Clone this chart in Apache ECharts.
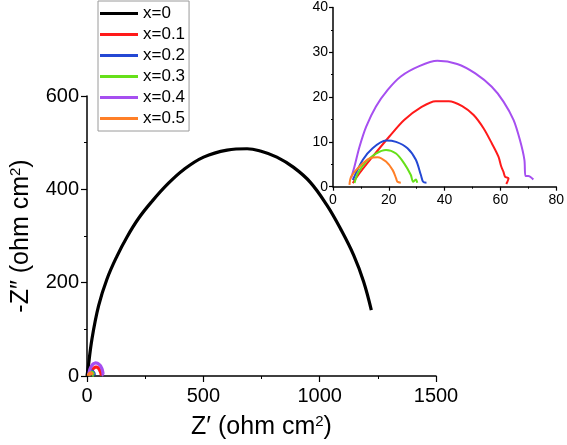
<!DOCTYPE html>
<html><head><meta charset="utf-8">
<script src="https://cdn.jsdelivr.net/npm/echarts@6/dist/echarts.min.js"></script>
<style>html,body{margin:0;padding:0;background:#fff}#c{width:567px;height:445px}</style>
</head><body><div id="c"></div>
<script>
// Series names
const names = ['x=0', 'x=0.1', 'x=0.2', 'x=0.3', 'x=0.4', 'x=0.5'];
const colors = ['#000000', '#ff1a1a', '#2448d4', '#66e01a', '#a64ff0', '#ff7f27'];

// Tick labels
const mainXTicks = [0, 500, 1000, 1500];
const mainYTicks = [0, 200, 400, 600];
const insetXTicks = [0, 20, 40, 60, 80];
const insetYTicks = [0, 10, 20, 30, 40];

// x=0 (Z', -Z'')
const s0 = [[0,0],[2.6,8.5],[21.5,80],[50,151],[86,208],[129,257],[172,298],[222,338],[279,374],[344,410],[415,442],[501,469],[602,484],[688,487],[745,482],[816,469],[888,447],[960,415],[1031,366],[1089,316],[1146,259],[1189,202],[1222,141]];
// x=0.1
const s1 = [[7.1,0.8],[9.5,3.0],[14.2,6.7],[20.2,11.2],[25.5,14.9],[31.5,17.7],[36.8,19.1],[41.5,19.1],[46.3,18.0],[50.4,16.0],[54.0,13.0],[56.9,9.7],[59.3,6.7],[60.3,4.5],[61.1,3.3],[61.7,2.2],[62.9,1.9],[62.1,0.6]];
// x=0.2
const s2 = [[7.1,1.5],[10.7,6.0],[14.2,8.6],[19.0,10.3],[22.6,10.0],[26.7,8.6],[29.7,6.0],[31.5,2.6],[32.3,1.1],[33.5,0.9]];
// x=0.3
const s3 = [[7.7,0.8],[8.9,3.0],[11.9,5.6],[15.4,7.4],[19.0,8.2],[22.6,7.4],[25.5,5.2],[27.9,2.6],[28.7,1.1],[29.7,1.6],[30.2,0.9]];
// x=0.4
const s4 = [[6.5,1.9],[7.7,4.5],[9.5,8.9],[11.9,13.4],[15.4,17.9],[19.6,21.6],[24.3,24.6],[30.9,26.9],[37.4,28.1],[44.5,27.4],[51.0,25.3],[56.9,22.3],[61.1,19.0],[64.7,14.9],[67.0,10.4],[68.6,6.0],[69.0,2.4],[70.0,2.4],[71.8,1.6]];
// x=0.5
const s5 = [[5.9,0.4],[6.5,2.2],[9.5,4.5],[13.1,6.3],[16.0,6.6],[19.0,5.6],[21.4,3.7],[22.6,1.9],[23.1,1.1],[24.3,0.9]];
const allData = [s0, s1, s2, s3, s4, s5];

const FONT = 'Liberation Sans, Arial, sans-serif';
const chart = echarts.init(document.getElementById('c'), null, {renderer: 'canvas'});

function axisCommon(fontSize, tickLen, minorLen, margin) {
  return {
    axisLine: {show: true, onZero: false, lineStyle: {color: '#000', width: 1.5}},
    axisTick: {show: true, inside: false, length: tickLen, lineStyle: {color: '#000', width: 1.2}},
    minorTick: {show: true, splitNumber: 2, length: minorLen, lineStyle: {color: '#000', width: 1}},
    splitLine: {show: false},
    axisLabel: {color: '#000', fontSize: fontSize, fontFamily: FONT, margin: margin, formatter: v => String(v)},
  };
}

const series = [];
allData.forEach((d, i) => {
  series.push({
    name: names[i], type: 'line', xAxisIndex: 0, yAxisIndex: 0, data: d,
    smooth: 0.4, showSymbol: false, symbol: 'none', lineStyle: {color: colors[i], width: 3.2}, itemStyle: {color: colors[i]},
    silent: true, animation: false, z: i === 0 ? 2 : 3
  });
});
allData.forEach((d, i) => {
  if (i === 0) return;
  series.push({
    name: names[i], type: 'line', xAxisIndex: 1, yAxisIndex: 1, data: d,
    smooth: 0.3, showSymbol: false, symbol: 'none', lineStyle: {color: colors[i], width: 2}, itemStyle: {color: colors[i]},
    silent: true, animation: false, z: 4
  });
});

const supRich = {a: {fontSize: 25, fontFamily: FONT, color: '#000'}, s: {fontSize: 15, fontFamily: FONT, color: '#000', verticalAlign: 'top', padding: [0, 0, 12, 0]}};

const option = {
  animation: false,
  backgroundColor: '#fff',
  grid: [
    {left: 87, top: 96, width: 349, height: 281},
    {left: 333, top: 7.5, width: 225, height: 179.2}
  ],
  legend: {
    data: names.map((n, i) => ({name: n, icon: 'rect', itemStyle: {color: colors[i]}})),
    orient: 'vertical', left: 98, top: 1,
    itemWidth: 38, itemHeight: 3, itemGap: 4,
    padding: [4, 4, 4, 2],
    borderColor: '#9a9a9a', borderWidth: 1, backgroundColor: '#fff',
    textStyle: {color: '#000', fontSize: 17, fontFamily: FONT, lineHeight: 16},
    selectedMode: false
  },
  xAxis: [
    Object.assign(axisCommon(20, 6, 3, 10), {
      gridIndex: 0, type: 'value', min: mainXTicks[0], max: mainXTicks[mainXTicks.length - 1], interval: 500,
      name: '{a|Z′ (ohm cm}{s|2}{a|)}', nameLocation: 'middle', nameGap: 38,
      nameTextStyle: {rich: supRich}
    }),
    Object.assign(axisCommon(14, 4, 2, 6), {
      gridIndex: 1, type: 'value', min: insetXTicks[0], max: insetXTicks[insetXTicks.length - 1], interval: 20
    })
  ],
  yAxis: [
    Object.assign(axisCommon(20, 6, 3, 8), {
      gridIndex: 0, type: 'value', min: mainYTicks[0], max: mainYTicks[mainYTicks.length - 1], interval: 200,
      name: '{a|-Z″ (ohm cm}{s|2}{a|)}', nameLocation: 'middle', nameGap: 52, nameRotate: 90,
      nameTextStyle: {rich: supRich}
    }),
    Object.assign(axisCommon(14, 4, 2, 5), {
      gridIndex: 1, type: 'value', min: insetYTicks[0], max: insetYTicks[insetYTicks.length - 1], interval: 10
    })
  ],
  series: series
};
chart.setOption(option);
</script>
</body></html>
